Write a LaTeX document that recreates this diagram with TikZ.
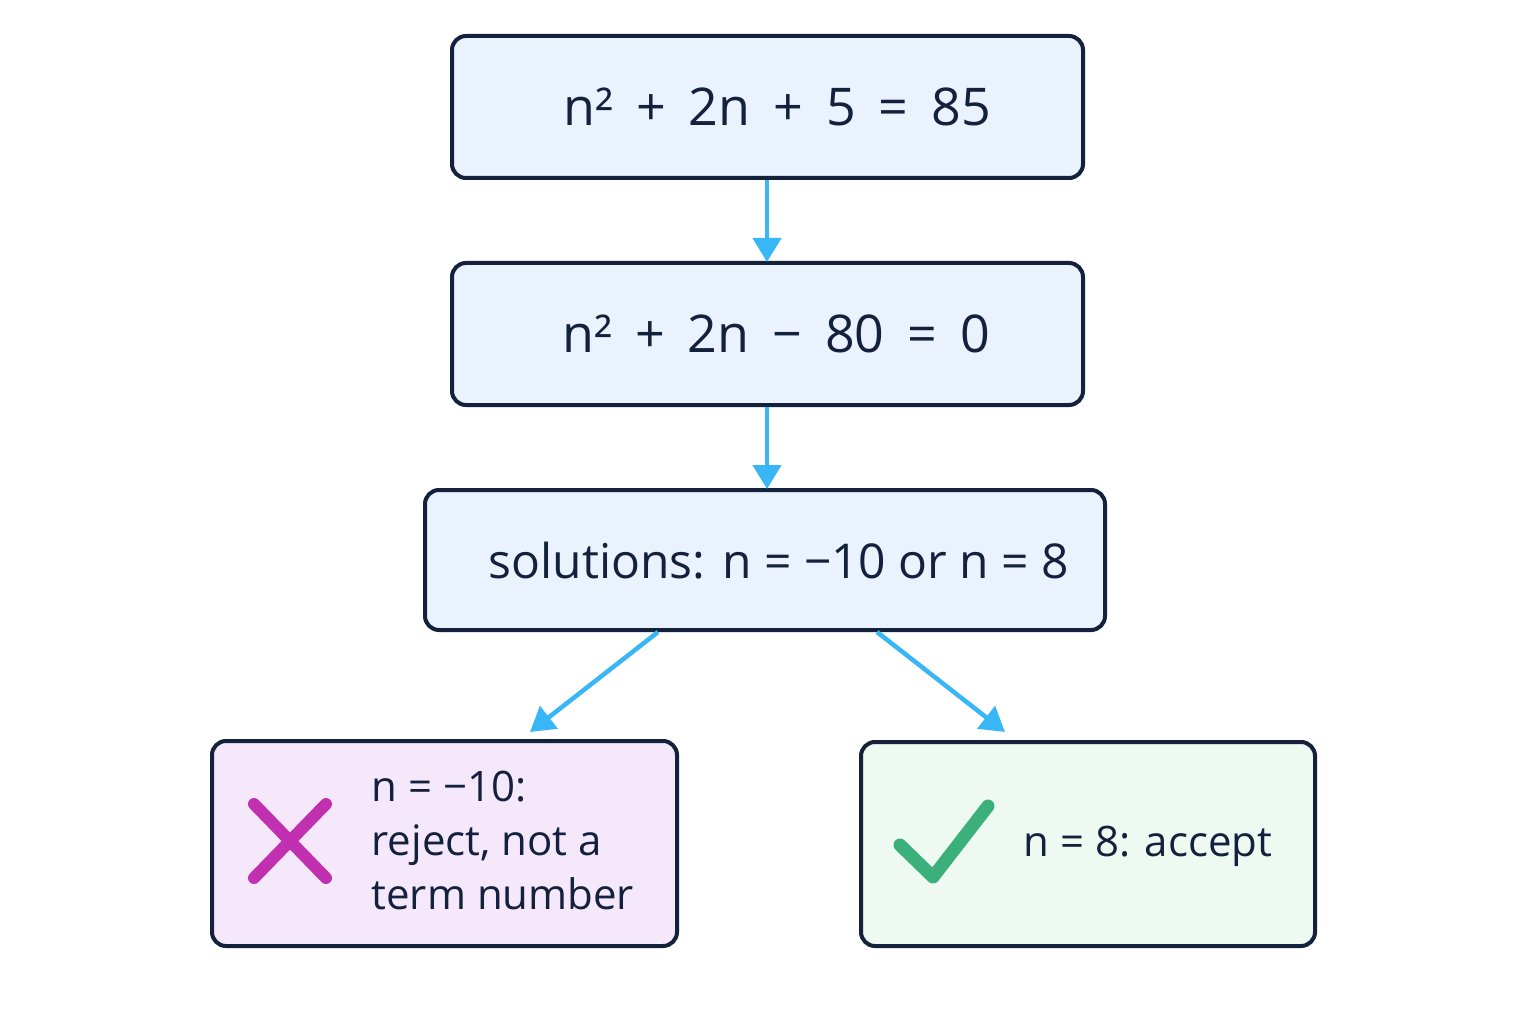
\documentclass[tikz,border=0pt]{standalone}
\usepackage{fontspec}
\setmainfont{Open Sans}
\newfontfamily\wide[WordSpace=1.7]{Open Sans}
\usetikzlibrary{arrows.meta}
\definecolor{bfill}{HTML}{EAF3FD}
\definecolor{bline}{HTML}{14213D}
\definecolor{arr}{HTML}{38B6F5}
\definecolor{pfill}{HTML}{F5E8FB}
\definecolor{gfill}{HTML}{EEF9F1}
\definecolor{mag}{HTML}{C030B0}
\definecolor{grn}{HTML}{3BB07A}
\begin{document}
\begin{tikzpicture}[x=1pt,y=-1pt,
 box/.style={draw=bline,line width=4pt,rounded corners=14pt,fill=bfill},
 txt/.style={text=bline,font=\wide\fontsize{52}{58}\selectfont,anchor=center},
 stxt/.style={text=bline,font=\fontsize{42}{54}\selectfont},
 conn/.style={draw=arr,line width=4.5pt,-{Triangle[length=24pt,width=28pt]}}]
\useasboundingbox (0,0) rectangle (1536,1024);
\fill[white] (0,0) rectangle (1536,1024);
\draw[box] (452,36) rectangle (1083,178);
\draw[box] (452,263) rectangle (1083,405);
\draw[box] (425,490) rectangle (1105,630);
\draw[box,fill=pfill] (212,741) rectangle (677,946);
\draw[box,fill=gfill] (861,742) rectangle (1315,946);
\node[txt] (t1) at (777,107) {n² + 2n + 5 = 85};
\node[txt] (t2) at (776,334) {n² + 2n − 80 = 0};
\node[text=bline,font=\fontsize{48}{54}\selectfont] (t3) at (779,561) {solutions: n = −10 or n = 8};
\node[stxt,anchor=north west,align=left] (t4) at (368,768) {n = −10:\\reject, not a\\term number};
\node[stxt] (t5) at (1148,846) {n = 8: accept};
\coordinate (a1) at (767,180); \coordinate (b1) at (767,262);
\coordinate (a2) at (767,407); \coordinate (b2) at (767,489);
\coordinate (a3) at (658,632); \coordinate (b3) at (530,732);
\coordinate (a4) at (877,632); \coordinate (b4) at (1005,732);
\draw[conn] (a1) -- (b1);
\draw[conn] (a2) -- (b2);
\draw[conn] (a3) -- (b3);
\draw[conn] (a4) -- (b4);
\draw[mag,line width=12pt,line cap=round] (254,804) -- (326,878) (326,804) -- (254,878);
\draw[grn,line width=13pt,line cap=round,line join=round] (900,845) -- (933,877) -- (988,806);
\end{tikzpicture}
\end{document}
